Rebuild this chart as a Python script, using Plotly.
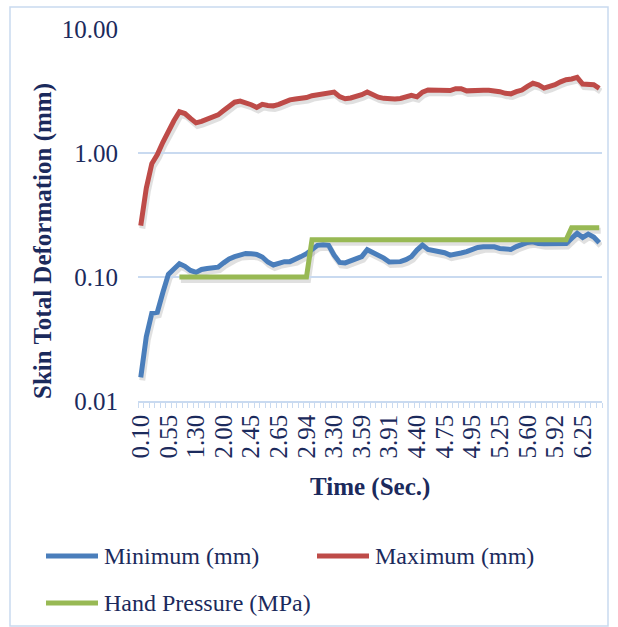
import plotly.graph_objects as go

# Sampled simulation time steps (every fifth step is labelled)
time_labels = ["0.10", "0.55", "1.30", "2.00", "2.45", "2.65", "2.94", "3.30", "3.59",
               "3.91", "4.40", "4.75", "4.95", "5.25", "5.60", "5.92", "6.25"]
label_every = 5

# Skin total deformation, minimum and maximum (mm), one value per time step
minimum_mm = [0.0155, 0.033, 0.051, 0.052, 0.075, 0.105, 0.116, 0.128, 0.122, 0.113,
              0.109, 0.115, 0.117, 0.118, 0.120, 0.130, 0.140, 0.146, 0.152, 0.155,
              0.154, 0.152, 0.145, 0.132, 0.125, 0.130, 0.133, 0.133, 0.138, 0.146,
              0.154, 0.168, 0.180, 0.182, 0.180, 0.150, 0.131, 0.130, 0.136, 0.142,
              0.146, 0.166, 0.158, 0.150, 0.142, 0.132, 0.131, 0.133, 0.138, 0.146,
              0.165, 0.181, 0.167, 0.164, 0.162, 0.157, 0.150, 0.152, 0.156, 0.160,
              0.166, 0.173, 0.175, 0.175, 0.175, 0.170, 0.167, 0.167, 0.176, 0.185,
              0.190, 0.192, 0.186, 0.185, 0.185, 0.185, 0.185, 0.186, 0.205, 0.225,
              0.208, 0.222, 0.210, 0.189]

maximum_mm = [0.26, 0.52, 0.82, 0.97, 1.22, 1.50, 1.82, 2.15, 2.08, 1.90,
              1.75, 1.80, 1.87, 1.95, 2.03, 2.20, 2.38, 2.57, 2.62, 2.55,
              2.45, 2.33, 2.47, 2.42, 2.40, 2.47, 2.58, 2.68, 2.73, 2.75,
              2.80, 2.90, 2.95, 3.00, 3.10, 3.10, 2.85, 2.74, 2.78, 2.85,
              2.95, 3.10, 2.95, 2.82, 2.76, 2.71, 2.72, 2.75, 2.85, 2.92,
              2.84, 3.10, 3.22, 3.22, 3.21, 3.20, 3.19, 3.30, 3.30, 3.17,
              3.20, 3.22, 3.21, 3.20, 3.19, 3.12, 3.03, 3.00, 3.12, 3.22,
              3.45, 3.65, 3.55, 3.34, 3.45, 3.55, 3.75, 3.90, 3.95, 4.07,
              3.60, 3.55, 3.55, 3.32]

# Applied hand pressure (MPa); no load during the first steps
hand_pressure_mpa = [None] * 7 + [0.10] * 24 + [0.20] * 47 + [0.25] * 6

series = [
    ("Minimum (mm)", minimum_mm, "#4A7EBB"),
    ("Maximum (mm)", maximum_mm, "#BE4B48"),
    ("Hand Pressure (MPa)", hand_pressure_mpa, "#98B954"),
]

n = len(maximum_mm)
steps = list(range(n))

W, H = 618, 627
ML, MR, MT, MB = 138, 16, 29, 226
PW, PH = W - ML - MR, H - MT - MB

TEXT = "#1B2A5C"
GRID = "#C9DAF0"
FONT = "Liberation Serif, Cambria, serif"

# drop shadow offset in pixels
SH_DX, SH_DY = 1.5, 3.0
x_range = [-0.5, n - 0.5]
y_range = [-2, 1]
x_shift = SH_DX * (x_range[1] - x_range[0]) / PW
y_shift = SH_DY * (y_range[1] - y_range[0]) / PH

fig = go.Figure()

# shadows under the lines (own hidden axes, offset range)
for name, vals, color in series:
    fig.add_trace(go.Scatter(
        x=steps, y=vals, mode="lines", xaxis="x", yaxis="y",
        line=dict(color="rgba(60,60,60,0.16)", width=6),
        hoverinfo="skip", showlegend=False, connectgaps=False,
    ))

for name, vals, color in series:
    fig.add_trace(go.Scatter(
        x=steps, y=vals, mode="lines", name=name, xaxis="x2", yaxis="y2",
        line=dict(color=color, width=5), showlegend=False,
    ))

fig.update_layout(
    width=W, height=H,
    margin=dict(l=ML, r=MR, t=MT, b=MB),
    paper_bgcolor="white", plot_bgcolor="rgba(0,0,0,0)",
    font=dict(family=FONT, color=TEXT),
    xaxis=dict(domain=[0, 1], anchor="y", visible=False,
               range=[x_range[0] - x_shift, x_range[1] - x_shift]),
    yaxis=dict(domain=[0, 1], anchor="x", visible=False, type="log",
               range=[y_range[0] + y_shift, y_range[1] + y_shift]),
    xaxis2=dict(
        domain=[0, 1], anchor="y2", range=x_range,
        tickvals=steps[::label_every], ticktext=time_labels,
        tickangle=-90, tickfont=dict(size=25, color=TEXT, family=FONT),
        ticks="", showgrid=False, zeroline=False,
        showline=True, linecolor=GRID, linewidth=1.5,
        minor=dict(tick0=-0.5, dtick=1, ticks="outside", ticklen=5,
                   tickcolor=GRID, tickwidth=1, showgrid=False),
        ticklabelstandoff=2,
    ),
    yaxis2=dict(
        domain=[0, 1], anchor="x2", type="log", range=y_range,
        tickvals=[0.01, 0.1, 1, 10], ticktext=["0.01", "0.10", "1.00", "10.00"],
        tickfont=dict(size=25, color=TEXT, family=FONT),
        ticks="", showgrid=True, gridcolor=GRID, gridwidth=1.5,
        showline=False, zeroline=False, ticklabelstandoff=19,
    ),
)

def px_x(px):
    return (px - ML) / PW

def px_y(py):
    return 1 - (py - MT) / PH

# outer chart border
fig.add_shape(type="rect", xref="paper", yref="paper",
              x0=px_x(10), x1=px_x(608), y0=px_y(7), y1=px_y(626),
              line=dict(color=GRID, width=1.5), layer="below")

# axis titles
fig.add_annotation(text="<b>Skin Total Deformation (mm)</b>", textangle=-90,
                   xref="paper", yref="paper", x=px_x(43), y=px_y(241),
                   xanchor="center", yanchor="middle",
                   showarrow=False, font=dict(size=25, color=TEXT, family=FONT))
fig.add_annotation(text="<b>Time (Sec.)</b>",
                   xref="paper", yref="paper", x=px_x(370), y=px_y(487),
                   xanchor="center", yanchor="middle",
                   showarrow=False, font=dict(size=25, color=TEXT, family=FONT))

# legend
legend_slots = [(46, 556), (317, 556), (46, 603)]
for (name, vals, color), (lx, ly) in zip(series, legend_slots):
    fig.add_shape(type="line", xref="paper", yref="paper",
                  x0=px_x(lx), x1=px_x(lx + 52), y0=px_y(ly), y1=px_y(ly),
                  line=dict(color=color, width=5))
    fig.add_annotation(text=name, xref="paper", yref="paper",
                       x=px_x(lx + 56), y=px_y(ly), xanchor="left", yanchor="middle",
                       showarrow=False, font=dict(size=24, color=TEXT, family=FONT))

fig.write_html("out.html")
